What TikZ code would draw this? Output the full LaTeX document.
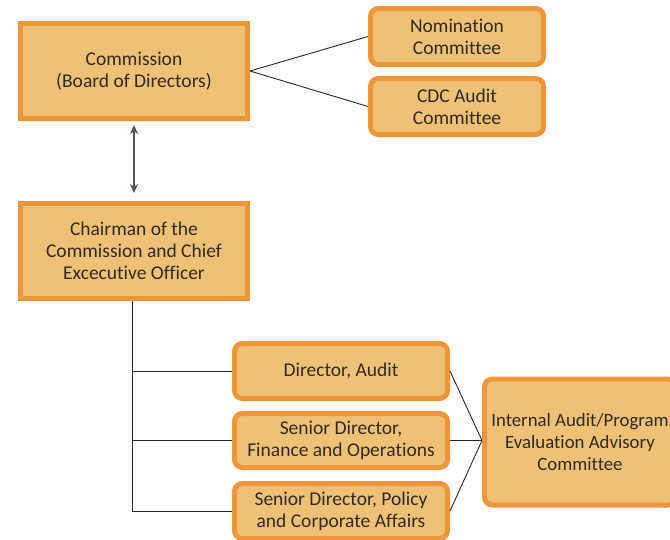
\documentclass[tikz,border=0pt]{standalone}
\usepackage{fontspec}
\setmainfont{Carlito}[Ligatures={NoCommon}]
\usetikzlibrary{arrows.meta}
\definecolor{boxfill}{HTML}{EFC177}
\definecolor{boxline}{HTML}{F0963A}
\definecolor{txt}{HTML}{2E2A25}
\definecolor{conn}{HTML}{2A2A2A}
\definecolor{arr}{HTML}{5A5550}
\tikzset{
  base/.style={draw=boxline, fill=boxfill, line width=5pt, text=txt, align=center,
    font=\fontsize{19.5}{22}\selectfont, inner sep=0pt},
  sqbox/.style={base, minimum width=227pt, minimum height=95pt},
  rbox/.style={base, rounded corners=8pt},
  link/.style={draw=conn, line width=0.9pt},
}
\begin{document}
\begin{tikzpicture}[x=1pt,y=-1pt]
\useasboundingbox (0,0) rectangle (670,539);
\clip (0,0) rectangle (670,539);
\node[sqbox] (comm) at (134,71) {Commission\\(Board of Directors)};
\node[rbox, minimum width=173pt, minimum height=56pt] (nom) at (457,36.5) {Nomination\\Committee};
\node[rbox, minimum width=173pt, minimum height=56pt] (cdc) at (457,106.5) {CDC Audit\\Committee};
\node[sqbox] (chair) at (134,251) {Chairman of the\\Commission and Chief\\Excecutive Officer};
\node[rbox, minimum width=213pt, minimum height=55pt] (dir) at (341,371) {Director, Audit};
\node[rbox, minimum width=213pt, minimum height=54pt] (fin) at (341,440.5) {Senior Director,\\Finance and Operations};
\node[rbox, minimum width=213pt, minimum height=55pt] (pol) at (341,511) {Senior Director, Policy\\and Corporate Affairs};
\node[rbox, minimum width=191pt, minimum height=126pt, font=\fontsize{18.8}{22}\selectfont] (int) at (580,442) {Internal Audit/Program\\Evaluation Advisory\\Committee};
\coordinate (hub) at (int.west |- fin.east);
\draw[link] (comm.east) -- (nom.west);
\draw[link] (comm.east) -- (cdc.west);
\draw[draw=arr, line width=1.3pt, {Stealth[length=9pt,width=8pt,fill=conn]}-{Stealth[length=9pt,width=8pt,fill=conn]}]
  ([yshift=-4pt]comm.south) -- ([yshift=8pt]chair.north);
\coordinate (trunk) at ([xshift=-2pt]chair.south);
\draw[link] (trunk) |- (pol.west);
\draw[link] (trunk) |- (dir.west);
\draw[link] (trunk) |- (fin.west);
\draw[link] (dir.east) -- (hub);
\draw[link] (fin.east) -- (hub);
\draw[link] (pol.east) -- (hub);
\end{tikzpicture}
\end{document}
